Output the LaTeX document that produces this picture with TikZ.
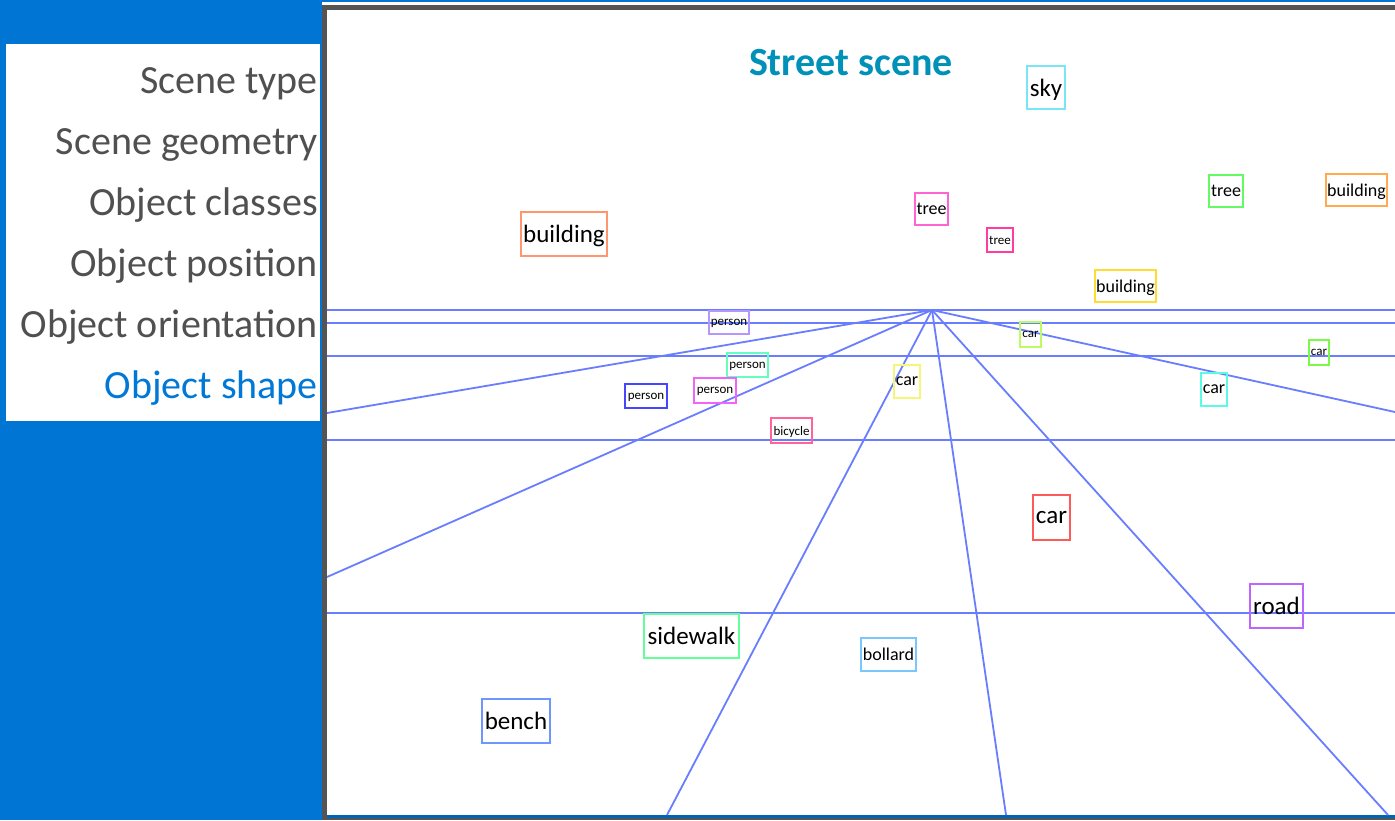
\documentclass[tikz,border=0pt]{standalone}
\usepackage{fontspec}
\setmainfont{Carlito}
\usetikzlibrary{positioning}
\definecolor{bgblue}{RGB}{0,117,211}
\definecolor{framegray}{RGB}{85,85,85}
\definecolor{paneltext}{RGB}{80,80,80}
\definecolor{shapeblue}{RGB}{0,120,215}
\definecolor{titleteal}{RGB}{0,145,185}
\definecolor{raycol}{RGB}{105,125,255}
\definecolor{cSky}{RGB}{120,230,245}
\definecolor{cBldA}{RGB}{255,150,110}
\definecolor{cBldB}{RGB}{255,170,80}
\definecolor{cBldC}{RGB}{255,220,50}
\definecolor{cTreeA}{RGB}{255,100,210}
\definecolor{cTreeB}{RGB}{255,60,160}
\definecolor{cTreeC}{RGB}{100,250,100}
\definecolor{cPerA}{RGB}{180,150,255}
\definecolor{cPerB}{RGB}{100,255,190}
\definecolor{cPerC}{RGB}{70,70,255}
\definecolor{cPerD}{RGB}{240,100,250}
\definecolor{cBike}{RGB}{255,100,150}
\definecolor{cCarA}{RGB}{245,245,120}
\definecolor{cCarB}{RGB}{190,250,100}
\definecolor{cCarC}{RGB}{120,250,70}
\definecolor{cCarD}{RGB}{90,250,230}
\definecolor{cCarE}{RGB}{255,90,90}
\definecolor{cRoad}{RGB}{190,100,255}
\definecolor{cWalk}{RGB}{100,255,150}
\definecolor{cBoll}{RGB}{120,200,255}
\definecolor{cBench}{RGB}{110,150,255}

\begin{document}
\begin{tikzpicture}[x=1pt,y=-1pt,
  tag/.style={draw=#1,line width=1.2pt,inner sep=0pt,text=black,text depth=0pt},
  bigtag/.style={font=\fontsize{25}{25}\selectfont},
  midtag/.style={font=\fontsize{18}{18}\selectfont},
  smalltag/.style={font=\fontsize{13}{13}\selectfont},
  panel/.style={anchor=base east,inner sep=0pt,text=paneltext,font=\fontsize{40}{40}\selectfont},
  ray/.style={raycol,line width=1.8pt}]
\useasboundingbox (0,0) rectangle (1395,820);
\fill[bgblue] (0,0) rectangle (1395,820);
% left panel
\fill[white] (6,44) rectangle (320,421);
\node[panel] (stype) at (318,93) {Scene type};
\node[panel] (sgeom) at (318,154) {Scene geometry};
\node[panel] (oclass) at (318,215) {Object classes};
\node[panel] (opos) at (318,276) {Object position};
\node[panel] (oorient) at (318,337) {Object orientation};
\node[panel,text=shapeblue] (oshape) at (318,398) {Object shape};
% scene frame
\fill[white] (322,2) rectangle (1395,5);
\fill[framegray] (322,5) rectangle (1395,820);
\fill[white] (327,10) rectangle (1395,815);
\fill[bgblue!85!black] (327,815) rectangle (1395,818);
\node[anchor=base,inner sep=0pt,text=titleteal,font=\fontsize{40}{40}\selectfont\bfseries] (title) at (851,75) {Street scene};
% geometry lines
\coordinate (V) at (932,310);
\begin{scope}
\clip (327,10) rectangle (1395,815);
\foreach \hy in {310,323,356,440,613}
  \draw[ray] (327,\hy) -- (1395,\hy);
\foreach \ex/\ey in {327/413,327/577,667/815,1006/815,1388/815,1395/412}
  \draw[ray] (V) -- (\ex,\ey);
\end{scope}
% object labels
\node[tag=cSky,bigtag,minimum width=38pt,minimum height=43pt] (sky) at (1046,87.5) {sky};
\node[tag=cBldA,bigtag,minimum width=86pt,minimum height=44pt] (bldA) at (564,234) {building};
\node[tag=cTreeA,midtag,minimum width=33pt,minimum height=32pt] (treeA) at (931.5,209) {tree};
\node[tag=cTreeB,smalltag,minimum width=26pt,minimum height=24pt] (treeB) at (1000,240) {tree};
\node[tag=cTreeC,midtag,minimum width=34pt,minimum height=32pt] (treeC) at (1226,191) {tree};
\node[tag=cBldB,midtag,minimum width=61pt,minimum height=32pt] (bldB) at (1356.5,190) {building};
\node[tag=cBldC,midtag,minimum width=61pt,minimum height=32pt] (bldC) at (1125.5,286) {building};
\node[tag=cPerA,smalltag,minimum width=40pt,minimum height=23pt] (perA) at (729,322.5) {person};
\node[tag=cPerB,smalltag,minimum width=41pt,minimum height=24pt] (perB) at (747.5,365) {person};
\node[tag=cPerC,smalltag,minimum width=42pt,minimum height=24pt] (perC) at (646,396) {person};
\node[tag=cPerD,smalltag,minimum width=42pt,minimum height=25pt] (perD) at (715,390.5) {person};
\node[tag=cBike,smalltag,minimum width=41pt,minimum height=25pt] (bike) at (791.5,430.5) {bicycle};
\node[tag=cCarA,midtag,minimum width=26pt,minimum height=33pt] (carA) at (907,381.5) {car};
\node[tag=cCarB,smalltag,minimum width=21pt,minimum height=25pt] (carB) at (1030.5,334.5) {car};
\node[tag=cCarC,smalltag,minimum width=20pt,minimum height=25pt] (carC) at (1319,352.5) {car};
\node[tag=cCarD,midtag,minimum width=26pt,minimum height=33pt] (carD) at (1214,389.5) {car};
\node[tag=cCarE,bigtag,minimum width=37pt,minimum height=45pt] (carE) at (1051.5,517.5) {car};
\node[tag=cRoad,bigtag,minimum width=53pt,minimum height=44pt] (road) at (1276.5,606) {road};
\node[tag=cWalk,bigtag,minimum width=95pt,minimum height=44pt] (walk) at (691.5,636) {sidewalk};
\node[tag=cBoll,midtag,minimum width=55pt,minimum height=33pt] (boll) at (888.5,654.5) {bollard};
\node[tag=cBench,bigtag,minimum width=68pt,minimum height=44pt] (bench) at (516,721) {bench};
\end{tikzpicture}
\end{document}
